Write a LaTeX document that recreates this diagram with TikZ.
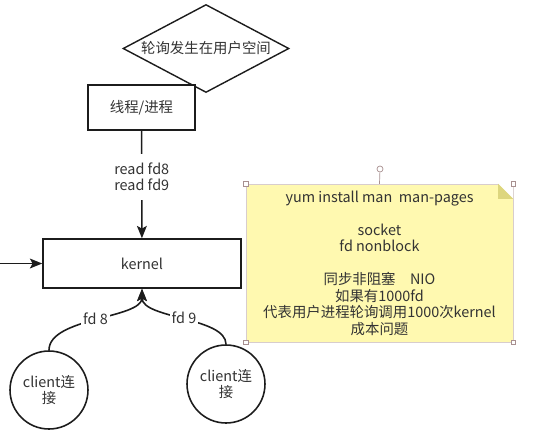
\documentclass[tikz,border=0pt]{standalone}
\usepackage{fontspec}
\setmainfont{Noto Sans CJK SC}
\usetikzlibrary{shapes.geometric,arrows.meta,positioning,calc}

\definecolor{lineBlack}{HTML}{1C1C1C}
\definecolor{textGray}{HTML}{333333}
\definecolor{noteYellow}{HTML}{FFF9B0}
\definecolor{foldYellow}{HTML}{DDD67E}
\definecolor{handleGray}{HTML}{A89090}

\begin{document}
\begin{tikzpicture}[
    x=0.02cm, y=-0.02cm,
    font=\fontsize{8.2pt}{9.4pt}\selectfont,
    text=textGray,
    >={Stealth[length=7pt,width=5.6pt,inset=1.5pt]},
    decision/.style={
        diamond,
        draw=lineBlack,
        fill=white,
        line width=0.8pt,
        inner sep=0pt,
        aspect=1.9,
        minimum width=3.32cm,
        minimum height=1.76cm
    },
    activity/.style={
        rectangle,
        draw=lineBlack,
        fill=white,
        line width=0.9pt,
        align=center,
        inner sep=0pt
    },
    clientCircle/.style={
        circle,
        draw=lineBlack,
        fill=white,
        line width=0.9pt,
        align=center,
        inner sep=0pt,
        minimum size=1.56cm
    },
    flowLine/.style={
        line width=0.9pt,
        draw=lineBlack,
        ->
    },
    edgeLabel/.style={
        fill=white,
        align=center,
        inner xsep=1pt,
        inner ysep=1pt
    },
    stickyNote/.style={
        rectangle,
        fill=noteYellow,
        draw=handleGray!45,
        line width=0.3pt,
        align=center,
        inner sep=0pt,
        minimum width=5.34cm,
        minimum height=3.16cm
    },
    handleBox/.style={
        rectangle,
        draw=handleGray,
        fill=white,
        line width=0.4pt,
        inner sep=0pt,
        minimum size=0.09cm
    }
]
\useasboundingbox (0,0) rectangle (555,444);

% ==================== USER SPACE ====================
\node[decision] (decPoll) at (206,48.5) {轮询发生在用户空间};
\node[activity, minimum width=2.14cm, minimum height=0.9cm] (actThread) at (141.5,107.5) {线程/进程};

% ==================== KERNEL ====================
\node[activity, minimum width=3.96cm, minimum height=0.98cm] (actKernel) at (142,263.5) {kernel};
\coordinate (leftIn) at (0,263.5);

\draw[flowLine] (actThread) -- node[edgeLabel, pos=0.43, inner ysep=5pt] {read fd8\\read fd9} (actKernel);
\draw[flowLine] (leftIn) -- (actKernel);

% ==================== CLIENTS ====================
\node[clientCircle] (cliA) at (49,390) {client连\\接};
\node[clientCircle] (cliB) at (226,384) {client连\\接};

\draw[flowLine] (cliA.north) .. controls ($(cliA.north)+(0,-33)$) and ($(actKernel.south)+(0,30)$) .. (actKernel.south)
    node[edgeLabel, pos=0.5] {fd 8};
\draw[flowLine] (cliB.north) .. controls ($(cliB.north)+(0,-27)$) and ($(actKernel.south)+(0,30)$) .. (actKernel.south)
    node[edgeLabel, pos=0.5] {fd 9};

% ==================== NOTE ====================
\node[stickyNote] (noteBox) at (379.5,263) {yum install man\ \ man-pages\\[9.4pt]
    socket\\fd nonblock\\[9.4pt]
    同步非阻塞\quad NIO\\如果有1000fd\\代表用户进程轮询调用1000次kernel\\成本问题};
\fill[white] ($(noteBox.north east)+(-15,0)$) -- (noteBox.north east) -- ($(noteBox.north east)+(0,15)$) -- cycle;
\fill[foldYellow] ($(noteBox.north east)+(-15,0)$) -- ($(noteBox.north east)+(-15,15)$) -- ($(noteBox.north east)+(0,15)$) -- cycle;

% selection handles
\node[circle, draw=handleGray, fill=white, line width=0.4pt, inner sep=0pt, minimum size=0.12cm] (rotHandle) at (380,169) {};
\draw[handleGray, line width=0.4pt] (rotHandle) -- (noteBox.north);
\node[handleBox] (hNW) at (noteBox.north west) {};
\node[handleBox] (hNE) at (noteBox.north east) {};
\node[handleBox] (hSW) at (noteBox.south west) {};
\node[handleBox] (hSE) at (noteBox.south east) {};

\end{tikzpicture}
\end{document}
